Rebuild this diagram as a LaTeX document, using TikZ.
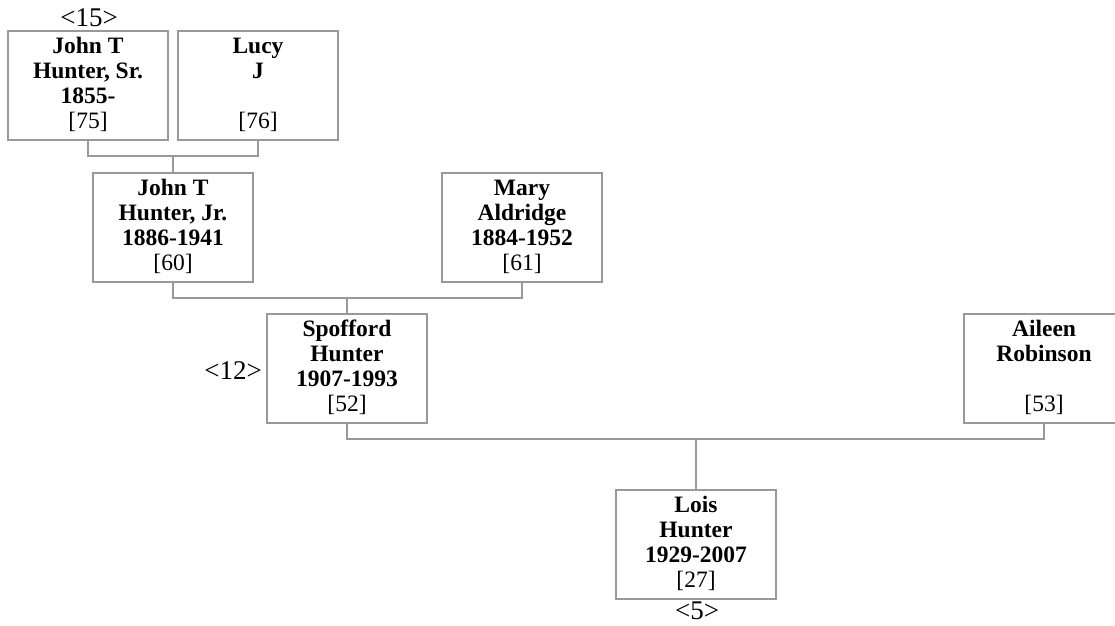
\documentclass[tikz,border=0pt]{standalone}
\usepackage{fontspec}
\setmainfont{Liberation Serif}
\usepackage{tikz}
\usetikzlibrary{positioning}

\definecolor{linegray}{HTML}{999999}
\newcommand{\who}[4]{\textbf{#1}\strut\\\textbf{#2}\strut\\\textbf{#3}\strut\\{}[#4]\strut}

\tikzset{
    person/.style={draw=linegray, line width=1.2pt, minimum width=160pt, minimum height=109pt,
        inner sep=0pt, align=center, font=\fontsize{23.5}{25}\selectfont},
    link/.style={draw=linegray, line width=1.2pt},
    gen/.style={font=\fontsize{27}{29}\selectfont, inner sep=0pt}
}

\begin{document}
\begin{tikzpicture}[x=1pt, y=-1pt]
    \useasboundingbox (0,0) rectangle (1115,625);
    \begin{scope}
    \clip (0,0) rectangle (1115,625);

    \node[person] (p75) at (88, 85.5) {\who{John T}{Hunter, Sr.}{1855-}{75}};
    \node[person] (p76) at (258, 85.5) {\who{Lucy}{J}{}{76}};
    \node[person] (p60) at (173, 227.5) {\who{John T}{Hunter, Jr.}{1886-1941}{60}};
    \node[person] (p61) at (522, 227.5) {\who{Mary}{Aldridge}{1884-1952}{61}};
    \node[person] (p52) at (347, 368.5) {\who{Spofford}{Hunter}{1907-1993}{52}};
    \node[person] (p53) at (1044, 368.5) {\who{Aileen}{Robinson}{}{53}};
    \node[person] (p27) at (696, 544.5) {\who{Lois}{Hunter}{1929-2007}{27}};

    \node[gen, anchor=base] (g15) at (89, 26) {<15>};
    \node[gen, anchor=base east] (g12) at (262, 379) {<12>};
    \node[gen, anchor=base] (g5) at (697, 619) {<5>};

    \coordinate (u1) at (173, 156);
    \coordinate (u2) at (347, 298);
    \coordinate (u3) at (696, 439);

    \draw[link] (p75.south) |- (u1) -| (p76.south);
    \draw[link] (u1) -- (p60.north);
    \draw[link] (p60.south) |- (u2) -| (p61.south);
    \draw[link] (u2) -- (p52.north);
    \draw[link] (p52.south) |- (u3) -| (p53.south);
    \draw[link] (u3) -- (p27.north);
    \end{scope}
\end{tikzpicture}
\end{document}
